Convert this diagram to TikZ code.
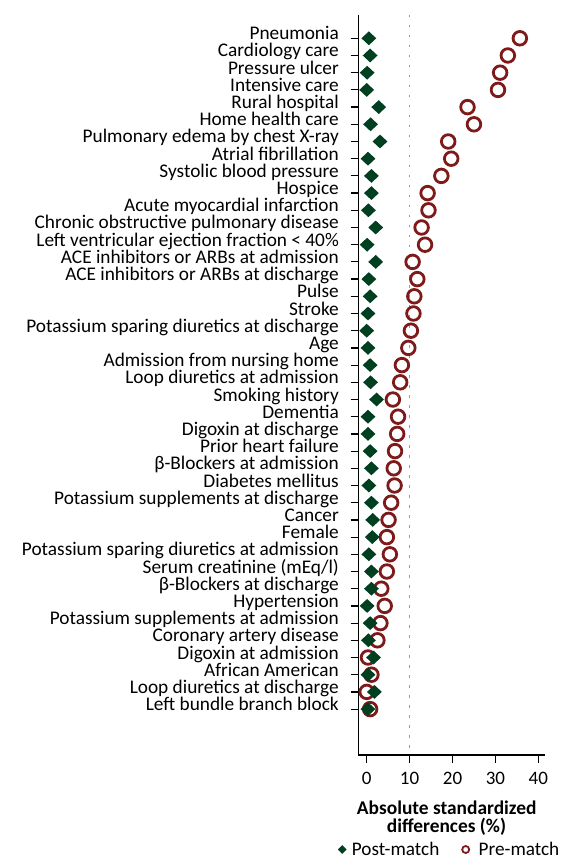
\documentclass[tikz,border=0pt]{standalone}
\usepackage{fontspec}
\setmainfont{Carlito}
\usepackage{xcolor}
\definecolor{postGreen}{HTML}{003F1F}
\definecolor{preRed}   {HTML}{7E1A1A}
\definecolor{refGray}  {HTML}{9A9A9A}
\usetikzlibrary{arrows.meta, positioning, calc, shapes.geometric}
\tikzset{
    axisline/.style={-, line width=1.4pt, black},
    tickline/.style={-, line width=1.2pt, black},
    refline/.style={-, line width=1pt, refGray, dash pattern=on 2.5pt off 7.5pt},
    rowlabel/.style={anchor=base east, inner sep=0pt,
                     font=\fontsize{19.3}{19}\selectfont},
    ticklabel/.style={anchor=north, inner sep=0pt,
                      font=\fontsize{19}{19}\selectfont},
    axistitle/.style={anchor=base, inner sep=0pt,
                      font=\fontsize{19.4}{19}\selectfont\bfseries},
    postmark/.style={diamond, fill=postGreen, minimum width=15pt,
                     minimum height=14pt, inner sep=0pt},
    premark/.style={circle, draw=preRed, line width=2.8pt,
                    minimum size=13.6pt, inner sep=0pt},
    postkey/.style={postmark, minimum width=9pt, minimum height=9pt},
    prekey/.style={premark, line width=1.8pt, minimum size=7pt},
    keylabel/.style={anchor=base west, inner sep=0pt,
                     font=\fontsize{19.2}{19}\selectfont},
}

\begin{document}
\begin{tikzpicture}[x=1pt, y=-1pt, node distance=4pt]
    \useasboundingbox (0,0) rectangle (560,858);
    % axes and the 10% reference line
    \coordinate (origin) at (358.3,755);
    \coordinate (ytop) at (358.3,15);
    \coordinate (xend) at (545,755);
    \coordinate (reftop) at (409.6,15);
    \coordinate (refbot) at (409.6,755);
    \draw[refline] (reftop) -- (refbot);
    \draw[axisline] (ytop) -- (origin) -- (xend);
    % x ticks
    \foreach \v in {0,10,20,30,40} {
        \coordinate (xt\v) at ({366.7+4.29*\v},755);
        \coordinate (xb\v) at ({366.7+4.29*\v},763);
        \draw[tickline] (xt\v) -- (xb\v);
        \node[ticklabel] (xl\v) at ({366.7+4.29*\v},772) {\v};
    }
    % rows: label / pre-match
    \foreach \name/\pre [count=\i] in {
        Pneumonia/35.7,
        Cardiology care/32.9,
        Pressure ulcer/31.1,
        Intensive care/30.6,
        Rural hospital/23.5,
        Home health care/25.0,
        Pulmonary edema by chest X-ray/19.0,
        Atrial fibrillation/19.7,
        Systolic blood pressure/17.4,
        Hospice/14.2,
        Acute myocardial infarction/14.4,
        Chronic obstructive pulmonary disease/12.8,
        {Left ventricular ejection fraction < 40\%}/13.6,
        ACE inhibitors or ARBs at admission/10.7,
        ACE inhibitors or ARBs at discharge/11.8,
        Pulse/11.1,
        Stroke/10.9,
        Potassium sparing diuretics at discharge/10.3,
        Age/9.7,
        Admission from nursing home/8.2,
        Loop diuretics at admission/7.8,
        Smoking history/6.1,
        Dementia/7.3,
        Digoxin at discharge/7.1,
        Prior heart failure/6.6,
        β-Blockers at admission/6.3,
        Diabetes mellitus/6.5,
        Potassium supplements at discharge/5.7,
        Cancer/5.1,
        Female/4.7,
        Potassium sparing diuretics at admission/5.4,
        {Serum creatinine (mEq/l)}/4.7,
        β-Blockers at discharge/3.4,
        Hypertension/4.2,
        Potassium supplements at admission/3.2,
        Coronary artery disease/2.5,
        Digoxin at admission/0.3,
        African American/1.1,
        Loop diuretics at discharge/0.0,
        Left bundle branch block/0.8} {
        \coordinate (ra\i) at (350.7,{38.3+(\i-1)*17.2});
        \coordinate (rb\i) at (358.3,{38.3+(\i-1)*17.2});
        \draw[tickline] (ra\i) -- (rb\i);
        \node[rowlabel] (lab\i) at (339,{39.8+(\i-1)*17.2}) {\name};
        \node[premark] (pre\i) at ({366.7+4.29*\pre},{38.3+(\i-1)*17.2}) {};
    }
    % post-match on top of pre-match
    \foreach \post [count=\i] in {0.5,0.8,0.1,0.0,2.8,0.9,3.1,0.3,1.1,1.1,
        0.4,2.1,0.1,2.1,0.5,0.8,0.3,0.0,0.3,0.8,0.9,2.3,0.3,0.3,0.8,1.1,
        0.5,1.1,1.4,1.3,0.5,1.1,1.1,0.1,0.8,0.4,1.6,0.3,1.8,0.3} {
        \node[postmark] (post\i) at ({366.7+4.29*\post},{38.3+(\i-1)*17.2}) {};
    }
    % axis title
    \node[axistitle] (title1) at (446.7,814) {Absolute standardized};
    \node[axistitle] (title2) at (446.5,832.7) {differences (\%)};
    % legend
    \node[postkey] (postsym) at (342.3,849.5) {};
    \node[keylabel] (posttext) at (351.7,855) {Post-match};
    \node[prekey] (presym) at (465.7,849.5) {};
    \node[keylabel] (pretext) at (478.5,855) {Pre-match};
\end{tikzpicture}
\end{document}
